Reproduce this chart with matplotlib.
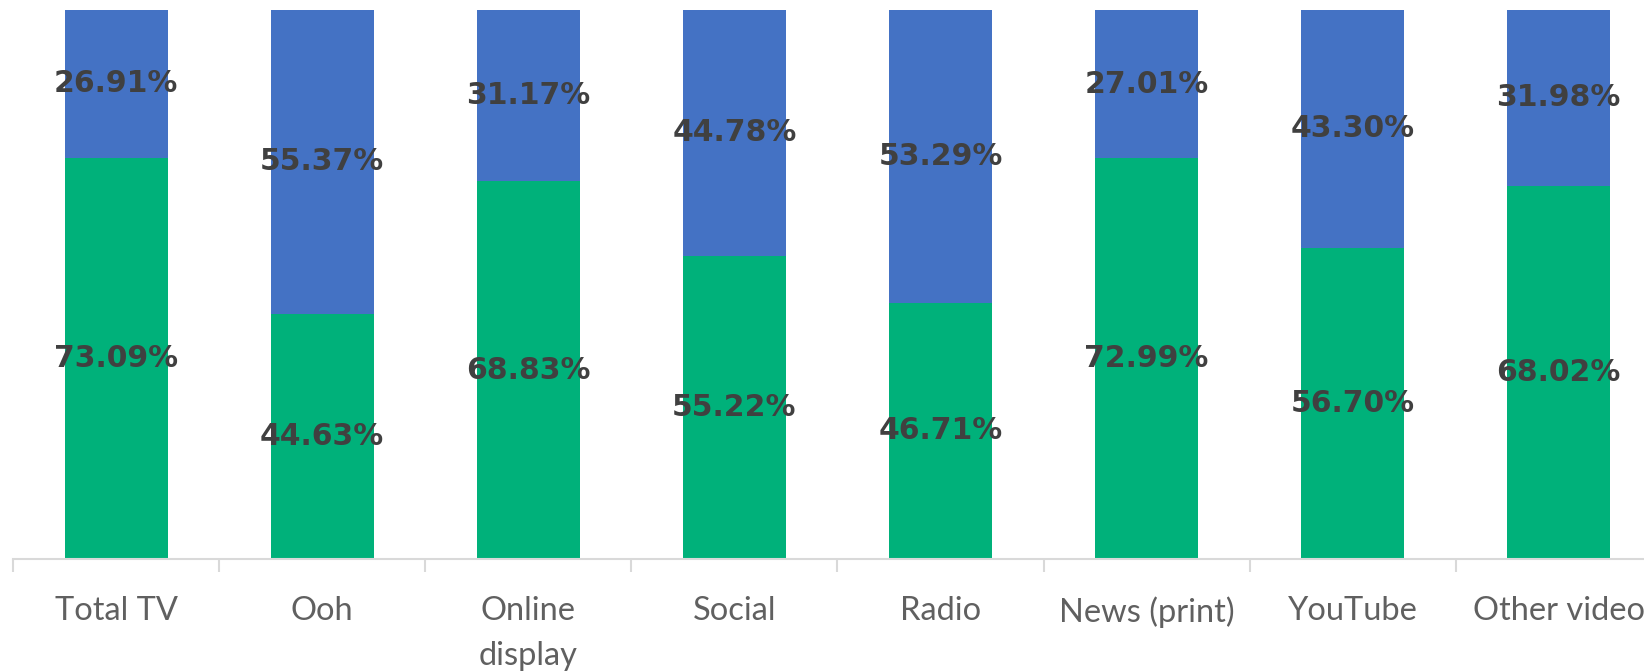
import matplotlib.pyplot as plt
import numpy as np

categories = ["Total TV", "Ooh", "Online\ndisplay", "Social", "Radio",
              "News (print)", "YouTube", "Other video"]
green_vals = [73.09, 44.63, 68.83, 55.22, 46.71, 72.99, 56.70, 68.02]
blue_vals = [26.91, 55.37, 31.17, 44.78, 53.29, 27.01, 43.30, 31.98]

green = "#00B17A"
blue = "#4472C4"
label_col = "#404040"

W, H = 1644, 671
fig = plt.figure(figsize=(W / 100, H / 100), dpi=100)
# axes run past the right edge, like the original (last label is cut off)
ax = fig.add_axes([13 / W, (H - 559) / H, 8 * 206.1 / W, 549 / H])

x = np.arange(len(categories))
g = np.array(green_vals)
b = np.array(blue_vals)
ax.bar(x, g, width=0.5, color=green)
ax.bar(x, b, width=0.5, bottom=g, color=blue)

for i in range(len(x)):
    ax.text(x[i], g[i] / 2, f"{g[i]:.2f}%", ha="center", va="center",
            fontsize=21.5, fontweight="bold", color=label_col)
    ax.text(x[i], g[i] + b[i] / 2, f"{b[i]:.2f}%", ha="center", va="center",
            fontsize=21.5, fontweight="bold", color=label_col)

ax.set_xlim(-0.5, len(x) - 0.5)
ax.set_ylim(0, 100)
ax.set_xticks(x)
ax.set_xticklabels(categories, fontsize=23.5, color="#606060",
                   family=["Lato", "DejaVu Sans"], linespacing=1.6)
ax.set_xticks(np.arange(len(x)) - 0.5, minor=True)
ax.tick_params(axis="x", which="major", length=0, pad=27)
ax.tick_params(axis="x", which="minor", length=9, width=1.5, color="#d9d9d9")
ax.set_yticks([])
for s in ["top", "right", "left"]:
    ax.spines[s].set_visible(False)
ax.spines["bottom"].set_color("#d9d9d9")
ax.spines["bottom"].set_linewidth(1.5)

fig.savefig("out.png", dpi=100)
